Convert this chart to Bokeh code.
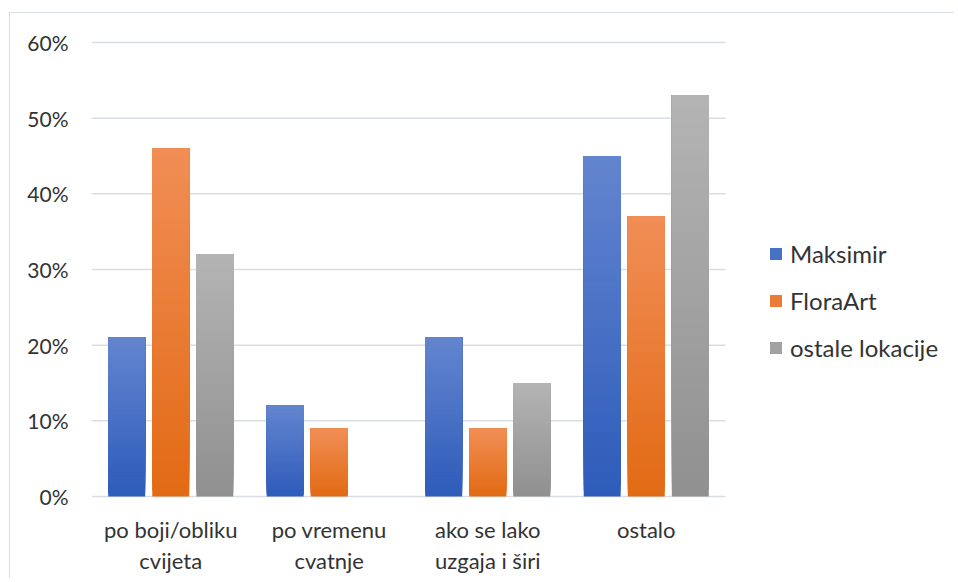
from bokeh.plotting import figure
from bokeh.models import Range1d, FixedTicker, Legend, LegendItem, ColumnDataSource
from bokeh.core.properties import value
from bokeh.embed import file_html
from bokeh.resources import INLINE

categories = ["po boji/obliku\ncvijeta", "po vremenu\ncvatnje", "ako se lako\nuzgaja i širi", "ostalo"]
series = ["Maksimir", "FloraArt", "ostale lokacije"]
maksimir = [0.21, 0.12, 0.21, 0.45]
floraart = [0.46, 0.09, 0.09, 0.37]
ostale = [0.32, 0.00, 0.15, 0.53]
y_ticks = [0.0, 0.1, 0.2, 0.3, 0.4, 0.5, 0.6]
y_tick_labels = ["0%", "10%", "20%", "30%", "40%", "50%", "60%"]

# gradient end colours (top, bottom) per series
grad = {
    "Maksimir": ((99, 133, 207), (46, 92, 186)),
    "FloraArt": ((241, 142, 86), (226, 106, 20)),
    "ostale lokacije": ((180, 180, 180), (144, 144, 144)),
}
values = {"Maksimir": maksimir, "FloraArt": floraart, "ostale lokacije": ostale}

FONT = "Lato"
TEXT = "#333333"
GRID = "#D9DEE5"

# layout (screen pixels)
CANVAS_X, CANVAS_Y = 10, 13
W, H = 945, 566
FRAME_L = 91
Y_TOP_PX, Y_ZERO_PX = 42, 496
CAT_PX = 158.5
ML = FRAME_L - CANVAS_X
px_per_unit = (Y_ZERO_PX - Y_TOP_PX) / y_ticks[-1]
y_end = y_ticks[-1] + (Y_TOP_PX - CANVAS_Y) / px_per_unit
y_start = -(CANVAS_Y + H - Y_ZERO_PX) / px_per_unit
frame_w = W - ML

p = figure(width=W, height=H, output_backend="svg", toolbar_location=None,
           x_range=Range1d(0, frame_w / CAT_PX), y_range=Range1d(y_start, y_end),
           min_border_left=ML, min_border_right=0, min_border_top=0, min_border_bottom=0)
p.styles = {"margin-left": "9px", "margin-top": "12px",
            "border-top": "1px solid " + GRID, "border-left": "1px solid " + GRID}
p.outline_line_color = None
p.background_fill_color = "white"
p.border_fill_color = "white"
p.xgrid.grid_line_color = None
p.ygrid.grid_line_color = None
p.xaxis.visible = False

n_cat = len(categories)
# gridlines across the category area only
p.segment(x0=[0] * len(y_ticks), x1=[n_cat] * len(y_ticks), y0=y_ticks, y1=y_ticks,
          line_color=GRID, line_width=1.5)

bar_w = 0.233
step = 0.278
N = 60

def hexc(c):
    return "#%02x%02x%02x" % tuple(int(round(v)) for v in c)

legend_items = []
for si, name in enumerate(series):
    top_c, bot_c = grad[name]
    L, R, B, T, C = [], [], [], [], []
    for ci, v in enumerate(values[name]):
        if v <= 0:
            continue
        xc = ci + 0.5 + (si - 1) * step
        for k in range(N):
            t = (k + 0.5) / N
            col = tuple(bot_c[j] + (top_c[j] - bot_c[j]) * t for j in range(3))
            L.append(xc - bar_w / 2)
            R.append(xc + bar_w / 2)
            B.append(v * k / N)
            T.append(v)
            C.append(hexc(col))
    src = ColumnDataSource(dict(left=L, right=R, bottom=B, top=T, color=C))
    p.quad(left="left", right="right", bottom="bottom", top="top", source=src,
           fill_color="color", line_color=None)
    mid = tuple((top_c[j] + bot_c[j]) / 2 for j in range(3))
    lr = p.quad(left=[0], right=[0], bottom=[0], top=[0], fill_color=hexc(mid), line_color=None)
    legend_items.append(LegendItem(label=name, renderers=[lr]))

# category labels under the bars
p.text(x=[i + 0.5 for i in range(n_cat)], y=[0] * n_cat, text=categories,
       text_align="center", text_baseline="top", y_offset=19,
       text_font=value(FONT), text_font_size="22px", text_color=TEXT,
       text_line_height=1.15)

# y axis
p.yaxis.ticker = FixedTicker(ticks=y_ticks)
p.yaxis.major_label_overrides = {t: l for t, l in zip(y_ticks, y_tick_labels)}
p.yaxis.axis_line_color = None
p.yaxis.major_tick_line_color = None
p.yaxis.minor_tick_line_color = None
p.yaxis.major_tick_out = 0
p.yaxis.major_tick_in = 0
p.yaxis.major_label_text_font = FONT
p.yaxis.major_label_text_font_size = "21px"
p.yaxis.major_label_text_color = TEXT
p.yaxis.major_label_standoff = 23

legend_bottom_px = 362
legend = Legend(items=legend_items,
                location=(768 - FRAME_L, CANVAS_Y + H - legend_bottom_px),
                orientation="vertical",
                label_text_font=FONT, label_text_font_size="24px", label_text_color=TEXT,
                glyph_width=15, glyph_height=15, label_standoff=7, spacing=18,
                padding=0, margin=0, border_line_color=None, background_fill_alpha=0)
p.add_layout(legend, "center")

open("out.html", "w").write(file_html(p, INLINE))
